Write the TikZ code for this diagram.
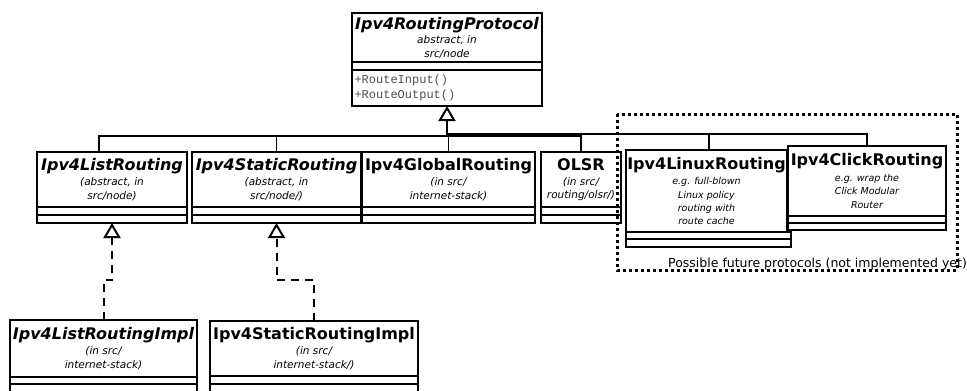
\documentclass[tikz,border=0pt]{standalone}
\usepackage{fontspec}
\setmainfont{DejaVu Sans}
\newfontfamily\opsfamily{Liberation Mono}
\usetikzlibrary{positioning}
\usetikzlibrary{arrows.meta}
\definecolor{opscolor}{RGB}{80, 80, 80}
\newcommand{\absclass}[1]{{\fontsize{16}{16}\selectfont\bfseries\itshape #1}}
\newcommand{\concclass}[1]{{\fontsize{16}{16}\selectfont\bfseries #1}}
\newcommand{\classnote}[1]{{\itshape #1}}
\tikzstyle{classname} = [draw, line width=2pt, fill=white, inner sep=0pt, outer sep=0pt, align=center, anchor=north west, font=\fontsize{10.5}{13.5}\selectfont]
\tikzstyle{futureclass} = [classname, font=\fontsize{9.5}{13.3}\selectfont]
\tikzstyle{compartment} = [draw, line width=2pt, fill=white, inner sep=0pt, outer sep=0pt]
\tikzstyle{inherit} = [line width=1.5pt]
\tikzstyle{realize} = [line width=2pt, dash pattern=on 8pt off 6pt]
\tikzstyle{gentip} = [-{Triangle[open, length=15pt, width=17pt, line width=2pt]}]
\tikzstyle{future} = [line width=3pt, dash pattern=on 3pt off 3pt]

\begin{document}
\begin{tikzpicture}[x=1pt, y=-1pt]
		\clip (0,0) rectangle (967,391);
		
		%
		% Connectors (drawn first, boxes go on top)
		\coordinate (busjoin) at (447,136);
		\coordinate (futurejoin) at (447,134);
		
		%
		% Base class
		\node [classname, minimum width=190, minimum height=49] (proto) at (352,13) {\absclass{Ipv4RoutingProtocol}\\[1pt]\classnote{abstract, in}\\\classnote{src/node}};
		\node [compartment, below=0pt of proto, minimum width=190, minimum height=8] (protoattr) {};
		\node [compartment, below=0pt of protoattr, minimum width=190, minimum height=36, text width=185, inner xsep=2.5pt, align=left, font={\opsfamily\fontsize{12}{15}\selectfont}, text=opscolor] (protoops) {+RouteInput()\\+RouteOutput()};
		
		%
		% Existing protocols
		\node [classname, minimum width=150, minimum height=55] (listroute) at (37,152) {\absclass{Ipv4ListRouting}\\[1.5pt]\classnote{(abstract, in}\\\classnote{src/node)}};
		\node [compartment, below=0pt of listroute, minimum width=150, minimum height=8] (listattr) {};
		\node [compartment, below=0pt of listattr, minimum width=150, minimum height=8] (listops) {};
		
		\node [classname, minimum width=169, minimum height=55] (staticroute) at (192,152) {\absclass{Ipv4StaticRouting}\\[1.5pt]\classnote{(abstract, in}\\\classnote{src/node/)}};
		\node [compartment, below=0pt of staticroute, minimum width=169, minimum height=8] (staticattr) {};
		\node [compartment, below=0pt of staticattr, minimum width=169, minimum height=8] (staticops) {};
		
		\node [classname, minimum width=173, minimum height=55] (globalroute) at (362,152) {\concclass{Ipv4GlobalRouting}\\[1.5pt]\classnote{(in src/}\\\classnote{internet-stack)}};
		\node [compartment, below=0pt of globalroute, minimum width=173, minimum height=8] (globalattr) {};
		\node [compartment, below=0pt of globalattr, minimum width=173, minimum height=8] (globalops) {};
		
		\node [classname, minimum width=80, minimum height=55] (olsr) at (541,152) {\concclass{OLSR}\\[1.5pt]\classnote{(in src/}\\\classnote{routing/olsr/)}};
		\node [compartment, below=0pt of olsr, minimum width=80, minimum height=8] (olsrattr) {};
		\node [compartment, below=0pt of olsrattr, minimum width=80, minimum height=8] (olsrops) {};
		
		\draw [inherit] ([xshift=-13pt]listroute.north) |- (busjoin);
		\draw [inherit] (staticroute.north) |- (busjoin);
		\draw [inherit] (globalroute.north) |- (busjoin);
		\draw [inherit] (olsr.north) |- (busjoin);
		\draw [inherit, gentip] (busjoin) -- (protoops.south);
		
		%
		% Future protocols
		\node [futureclass, minimum width=161, minimum height=82] (linuxroute) at (626,150) {\concclass{Ipv4LinuxRouting}\\[2.5pt]\classnote{e.g. full-blown}\\\classnote{Linux policy}\\\classnote{routing with}\\\classnote{route cache}};
		\node [compartment, anchor=north west, minimum width=165, minimum height=7] (linuxattr) at (linuxroute.south west) {};
		\node [compartment, below=0pt of linuxattr, minimum width=165, minimum height=8] (linuxops) {};
		
		\node [futureclass, minimum width=158, minimum height=70] (clickroute) at (788,146) {\concclass{Ipv4ClickRouting}\\[2.5pt]\classnote{e.g. wrap the}\\\classnote{Click Modular}\\\classnote{Router}};
		\node [compartment, below=0pt of clickroute, minimum width=158, minimum height=7] (clickattr) {};
		\node [compartment, below=0pt of clickattr, minimum width=158, minimum height=7] (clickops) {};
		
		\draw [inherit] ([xshift=2.5pt]linuxroute.north) |- (futurejoin);
		\draw [inherit] (clickroute.north) |- (futurejoin);
		
		%
		% Implementations
		\node [classname, minimum width=187, minimum height=57] (listimpl) at (10,320) {\absclass{Ipv4ListRoutingImpl}\\[1.5pt]\classnote{(in src/}\\\classnote{internet-stack)}};
		\node [compartment, below=0pt of listimpl, minimum width=187, minimum height=7] (listimplattr) {};
		\node [compartment, below=0pt of listimplattr, minimum width=187, minimum height=20] (listimplops) {};
		
		\node [classname, minimum width=208, minimum height=55] (staticimpl) at (210,321) {\concclass{Ipv4StaticRoutingImpl}\\[1.5pt]\classnote{(in src/}\\\classnote{internet-stack/)}};
		\node [compartment, below=0pt of staticimpl, minimum width=208, minimum height=8] (staticimplattr) {};
		\node [compartment, below=0pt of staticimplattr, minimum width=208, minimum height=20] (staticimplops) {};
		
		\draw [realize, gentip] (listimpl.north) -- ++(0,-40) -| (listops.south);
		\draw [realize, gentip] (staticimpl.north) -- ++(0,-41) -| (staticops.south);
		
		%
		% Frame round the future protocols
		\draw [future] (617,114) rectangle (957,270);
		\node [anchor=west, inner sep=0pt, font=\fontsize{12.5}{13}\selectfont] (futurelabel) at (668,264) {Possible future protocols (not implemented yet)};
	
	\end{tikzpicture}
\end{document}
